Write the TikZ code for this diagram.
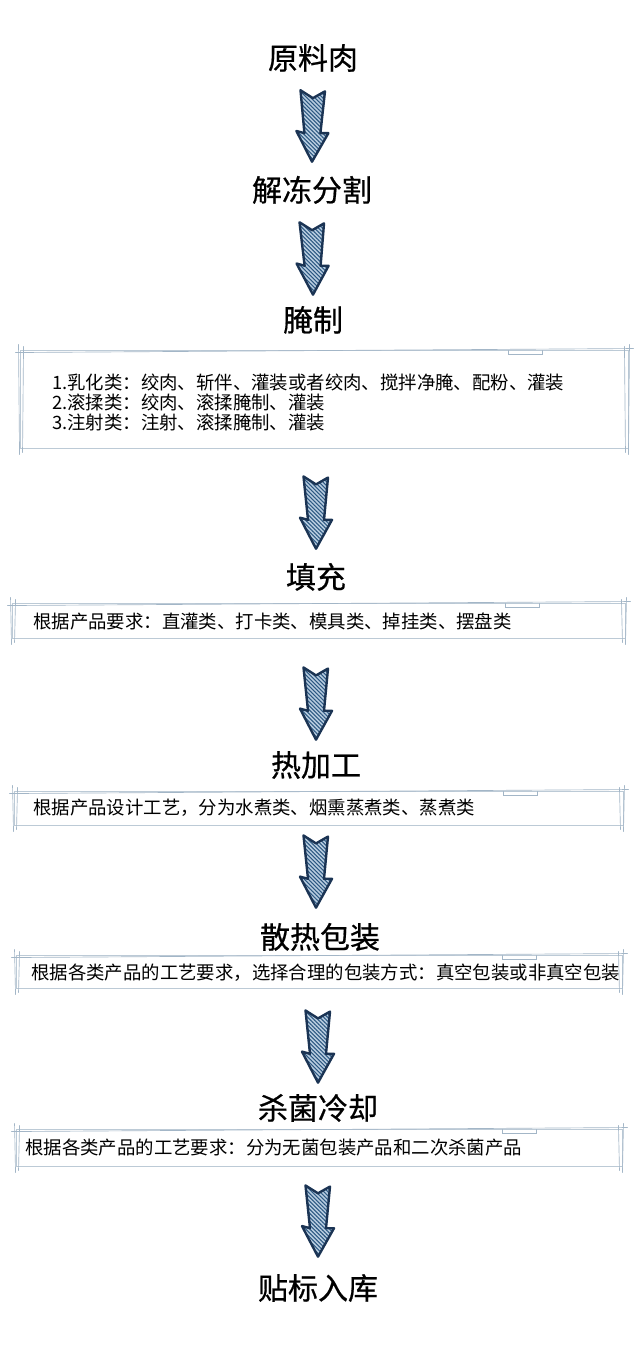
\documentclass[tikz,border=0pt]{standalone}
\usepackage{fontspec}
\newfontfamily\cjk{Noto Sans CJK SC}
\newfontfamily\cjkhead[FakeBold=0.6]{Noto Sans CJK SC}
\usepackage{xcolor}
\usepackage{tikz}
\usetikzlibrary{calc}
\usetikzlibrary{patterns.meta}

\definecolor{arrowline}{HTML}{1B3454}
\definecolor{arrowfill}{HTML}{B9CDE0}
\definecolor{hatch}{HTML}{2C5882}
\definecolor{boxline}{HTML}{BCCAD6}
\definecolor{boxdark}{HTML}{A3B6C7}

\tikzset{
  bigarrow/.style={draw=arrowline, line width=1.8pt, line join=round,
    preaction={fill=arrowfill},
    pattern={Lines[angle=-45,distance=2.1pt,line width=0.8pt]}, pattern color=hatch,
    to path={
      ($(\tikztostart)+(-12.5,0)$)
      -- ($(\tikztostart)!0.11!(\tikztotarget)$)
      -- ($(\tikztostart)!0.015!(\tikztotarget)+(12,0)$)
      -- ($(\tikztostart)!0.6!(\tikztotarget)+(8,0)$)
      -- ($(\tikztostart)!0.6!(\tikztotarget)+(16,0)$)
      -- (\tikztotarget)
      -- ($(\tikztostart)!0.57!(\tikztotarget)+(-16,0)$)
      -- ($(\tikztostart)!0.6!(\tikztotarget)+(-8,0)$)
      -- cycle}},
  note/.style={draw=boxline, line width=0.7pt, inner sep=0pt},
  notetext/.style={inner sep=0pt, anchor=west, text height=11.5pt, text depth=1pt,
    font=\cjk\fontsize{13.8}{15}\selectfont},
  sketch/.style={draw=boxdark, line width=0.5pt, line cap=round},
}

\newcommand\roughen[1]{%
  \draw[sketch] ($(#1.north west)+(-4,3)$) -- ($(#1.north east)+(5,-1)$);
  \draw[sketch] ($(#1.north west)+(-1,-5)$) -- ($(#1.south west)+(0,6)$);
  \draw[sketch] ($(#1.north west)+(4,-3)$) -- ($(#1.south west)+(3,4)$);
  \draw[sketch] ($(#1.north east)+(1,-5)$) -- ($(#1.south east)+(0,6)$);
  \draw[sketch] ($(#1.north east)+(-4,-3)$) -- ($(#1.south east)+(-3,4)$);
  \draw[sketch] ($(#1.north east)+(-120,1)$) -- ++(0,4) -- ++(34,0) -- ++(0,-4);
}

\begin{document}
\begin{tikzpicture}[x=0.75pt,y=-0.75pt]
\fill[white] (0,0) rectangle (638,1355);
\useasboundingbox (0,0) rectangle (638,1355);

\begin{scope}[every node/.style={inner sep=0pt, text height=18.5pt, text depth=1.5pt,
              font=\cjkhead\fontsize{22.5}{26}\selectfont}]
   \node (raw) at (313,58) {原料肉};
   \node (thaw) at (312,190) {解冻分割};
   \node (cure) at (313,320) {腌制};
   \node (stuff) at (316,577) {填充};
   \node (heat) at (316,765) {热加工};
   \node (pack) at (320,937) {散热包装};
   \node (kill) at (318,1108) {杀菌冷却};
   \node (store) at (318,1288) {贴标入库};
\end{scope}

\begin{scope}
   \node[note, minimum width=456pt, minimum height=73.5pt] (curenote) at (324,399) {};
   \node[note, minimum width=459.75pt, minimum height=26.25pt] (stuffnote) at (318.5,620.5) {};
   \node[note, minimum width=456.75pt, minimum height=25.5pt] (heatnote) at (318.5,808) {};
   \node[note, minimum width=454.5pt, minimum height=24.75pt] (packnote) at (319,971.5) {};
   \node[note, minimum width=454.5pt, minimum height=27.75pt] (killnote) at (319,1147.5) {};

   \roughen{curenote}
   \roughen{stuffnote}
   \roughen{heatnote}
   \roughen{packnote}
   \roughen{killnote}

   \node[notetext, text height=, text depth=, align=left] (curetext) at (52,403)
      {1.乳化类：绞肉、斩伴、灌装或者绞肉、搅拌净腌、配粉、灌装\\
       2.滚揉类：绞肉、滚揉腌制、灌装\\
       3.注射类：注射、滚揉腌制、灌装};
   \node[notetext] (stufftext) at (33,621) {根据产品要求：直灌类、打卡类、模具类、掉挂类、摆盘类};
   \node[notetext] (heattext) at (33,807) {根据产品设计工艺，分为水煮类、烟熏蒸煮类、蒸煮类};
   \node[notetext] (packtext) at (31,972) {根据各类产品的工艺要求，选择合理的包装方式：真空包装或非真空包装};
   \node[notetext] (killtext) at (25,1147) {根据各类产品的工艺要求：分为无菌包装产品和二次杀菌产品};
\end{scope}

\begin{scope}
   \draw[bigarrow] ([yshift=-14pt]raw.south) to ([yshift=11pt]thaw.north);
   \draw[bigarrow] ([yshift=-14pt]thaw.south) to ([yshift=8.8pt]cure.north);
   \draw[bigarrow] ([yshift=-21pt]stuff |- curenote.south) to ([yshift=11pt]stuff.north);
   \draw[bigarrow] ([yshift=-21.75pt]heat |- stuffnote.south) to ([yshift=8.8pt]heat.north);
   \draw[bigarrow] ([yshift=-7.5pt]heat |- heatnote.south) to ([yshift=11.8pt]heat |- pack.north);
   \draw[bigarrow] ([yshift=-16.5pt]kill |- packnote.south) to ([yshift=8.8pt]kill.north);
   \draw[bigarrow] ([yshift=-14.25pt]store |- killnote.south) to ([yshift=13.3pt]store.north);
\end{scope}
\end{tikzpicture}
\end{document}
